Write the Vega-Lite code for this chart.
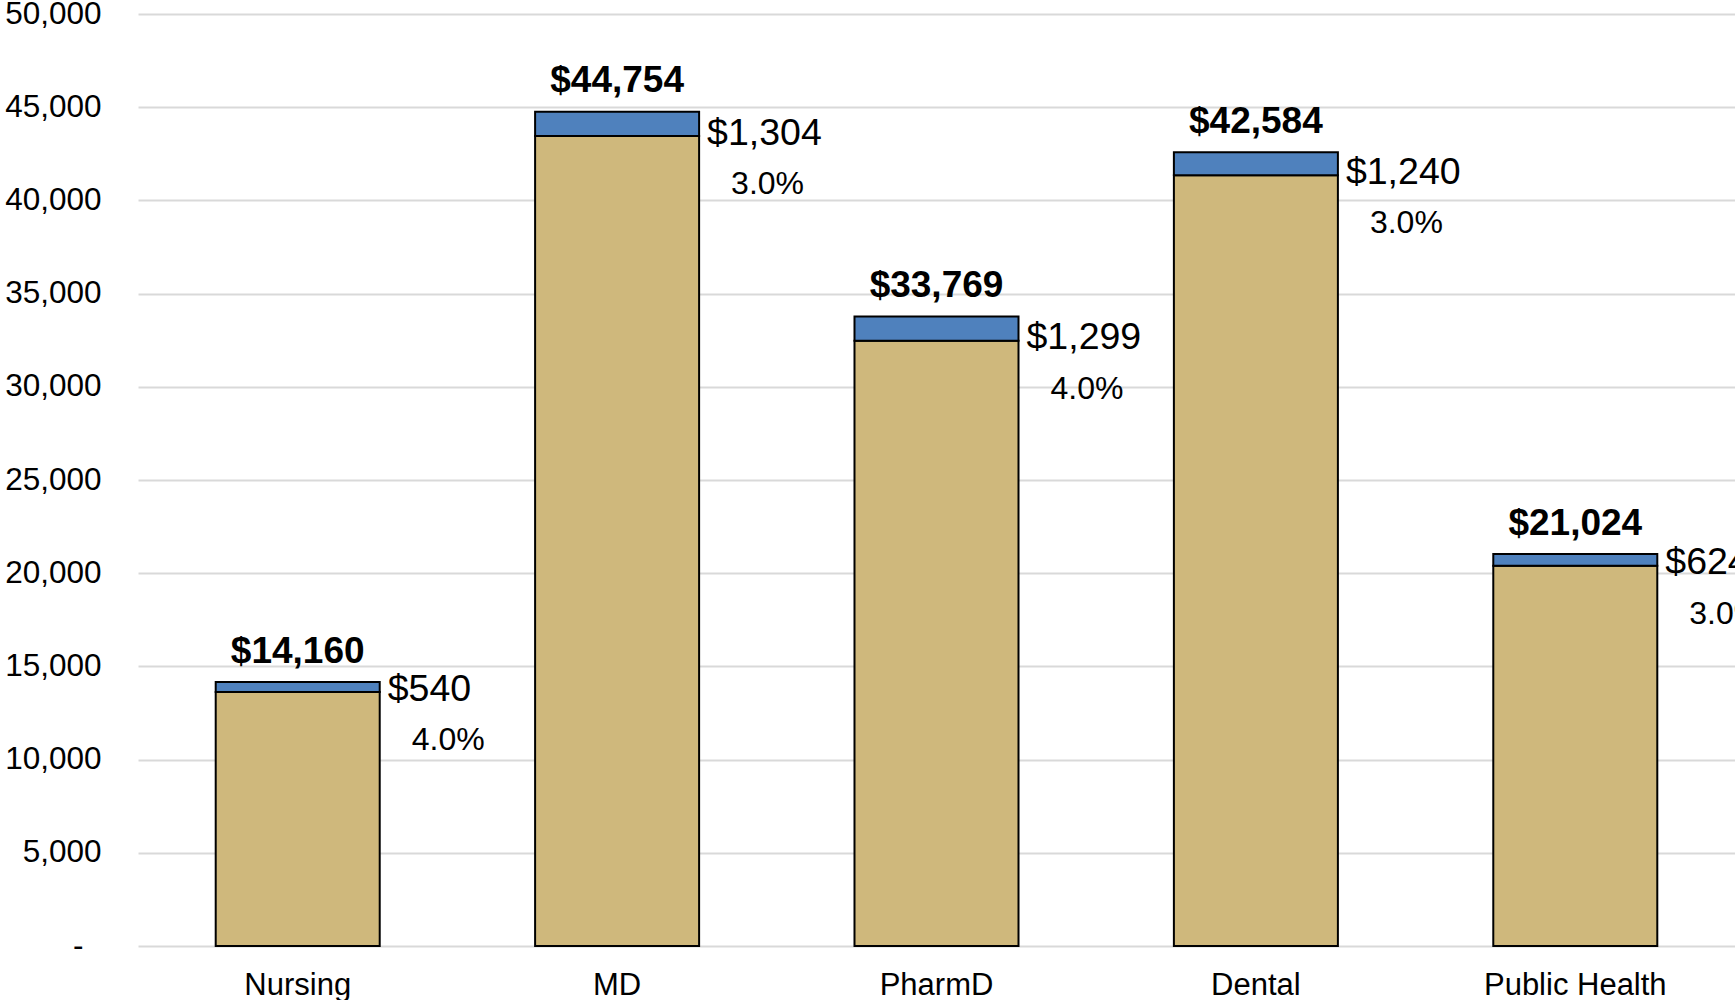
{
  "$schema": "https://vega.github.io/schema/vega-lite/v6.json",
  "width": 1597,
  "height": 932,
  "autosize": {"type": "none"},
  "padding": {"left": 138, "top": 14, "right": 0, "bottom": 54},
  "background": "white",
  "config": {"view": {"stroke": null}, "font": "Liberation Sans"},
  "data": {
    "values": [
      {"program": "Nursing", "base": 13620, "increase": 540, "total": 14160, "pct": 0.04},
      {"program": "MD", "base": 43450, "increase": 1304, "total": 44754, "pct": 0.03},
      {"program": "PharmD", "base": 32470, "increase": 1299, "total": 33769, "pct": 0.04},
      {"program": "Dental", "base": 41344, "increase": 1240, "total": 42584, "pct": 0.03},
      {"program": "Public Health", "base": 20400, "increase": 624, "total": 21024, "pct": 0.03}
    ]
  },
  "encoding": {
    "x": {
      "field": "program",
      "type": "nominal",
      "sort": null,
      "scale": {"paddingInner": 0.4865, "paddingOuter": 0.2433},
      "axis": {
        "title": null,
        "labelAngle": 0,
        "labelFontSize": 31,
        "labelColor": "black",
        "labelPadding": 24,
        "labelLimit": 0,
        "ticks": false,
        "domain": false,
        "grid": false
      }
    }
  },
  "layer": [
    {
      "mark": {"type": "bar", "fill": "#CFB87C", "stroke": "black", "strokeWidth": 2},
      "encoding": {
        "y": {
          "field": "base",
          "type": "quantitative",
          "scale": {"domain": [0, 50000], "nice": false},
          "axis": {
            "title": null,
            "values": [0, 5000, 10000, 15000, 20000, 25000, 30000, 35000, 40000, 45000, 50000],
            "labelExpr": "datum.value == 0 ? '-' : format(datum.value, ',')",
            "labelFontSize": 31.5,
            "labelColor": "black",
            "labelPadding": {"condition": {"test": "datum.value == 0", "value": 55}, "value": 37},
            "ticks": false,
            "domain": false,
            "gridColor": "#d9d9d9",
            "gridWidth": 2
          }
        }
      }
    },
    {
      "mark": {"type": "bar", "fill": "#4F81BD", "stroke": "black", "strokeWidth": 2},
      "encoding": {
        "y": {"field": "base", "type": "quantitative"},
        "y2": {"field": "total"}
      }
    },
    {
      "mark": {"type": "text", "fontWeight": "bold", "fontSize": 37, "baseline": "middle", "dy": -30.5, "color": "black"},
      "encoding": {
        "y": {"field": "total", "type": "quantitative"},
        "text": {"field": "total", "type": "quantitative", "format": "$,.0f"}
      }
    },
    {
      "mark": {"type": "text", "fontSize": 37.5, "align": "left", "baseline": "middle", "dx": 90, "dy": -2.5, "color": "black"},
      "encoding": {
        "y": {"field": "base", "type": "quantitative"},
        "text": {"field": "increase", "type": "quantitative", "format": "$,.0f"}
      }
    },
    {
      "mark": {"type": "text", "fontSize": 32, "align": "left", "baseline": "middle", "dx": 114, "dy": 47.8, "color": "black"},
      "encoding": {
        "y": {"field": "base", "type": "quantitative"},
        "text": {"field": "pct", "type": "quantitative", "format": ".1%"}
      }
    }
  ]
}
